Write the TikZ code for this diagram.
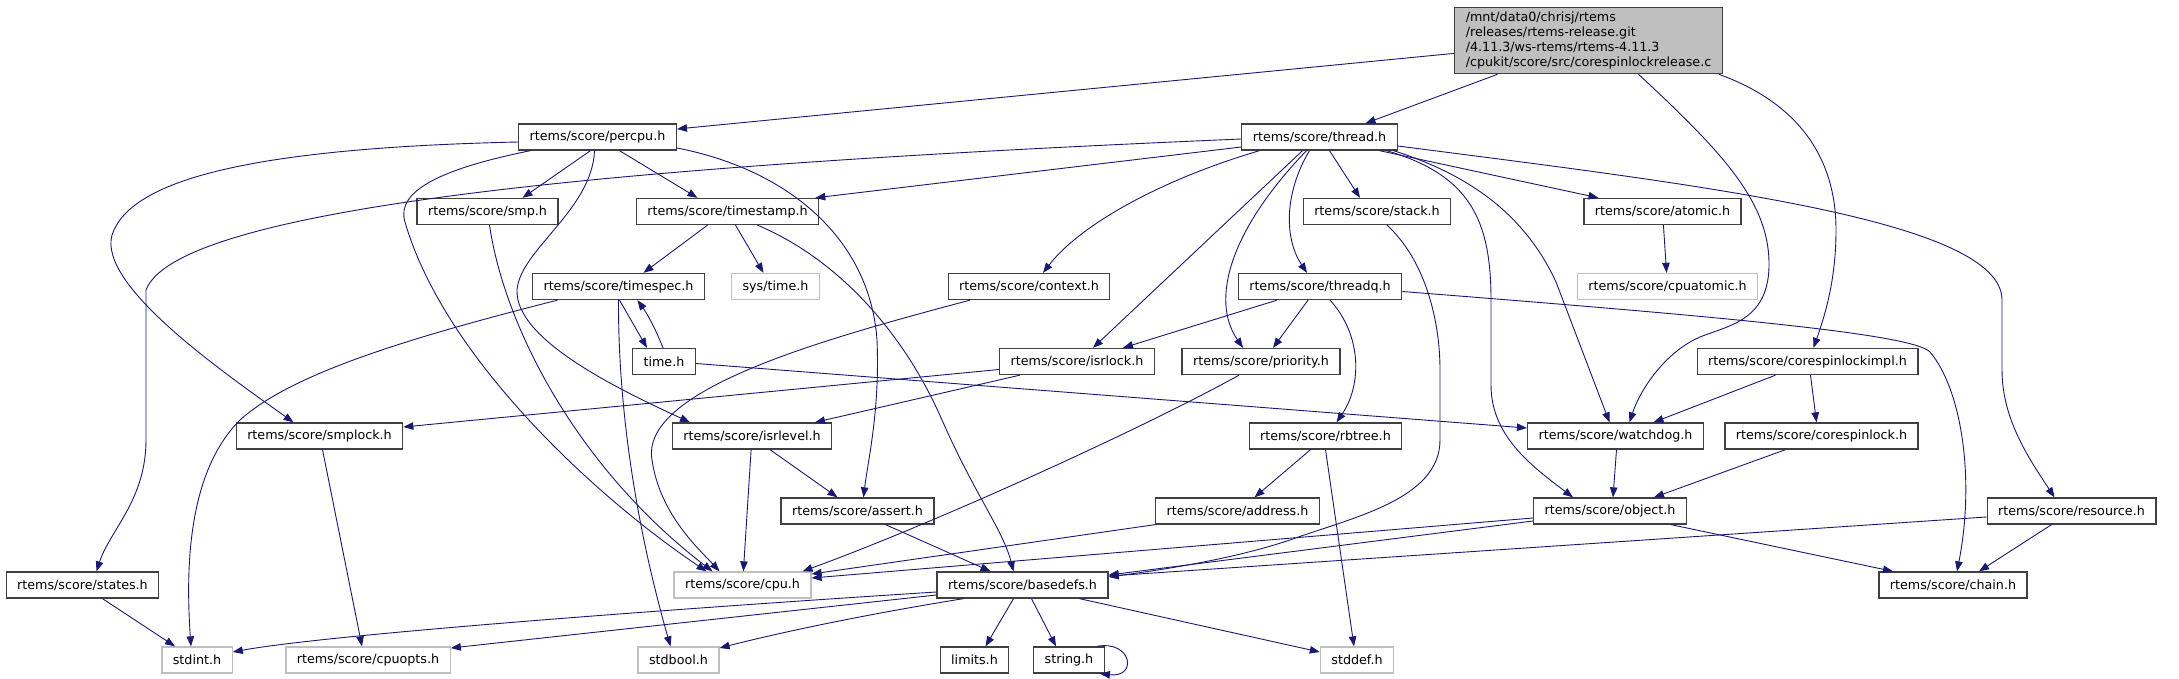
\documentclass[tikz,border=0pt]{standalone}
\usepackage{fontspec}
\setmainfont{DejaVu Sans}
\usetikzlibrary{arrows.meta}
\definecolor{edgeblue}{HTML}{191970}
\definecolor{boxgray}{HTML}{404040}
\definecolor{extgray}{HTML}{BFBFBF}
\tikzset{
  hdr/.style={draw=boxgray,line width=1.3pt,fill=white,minimum height=26pt,inner xsep=11pt,inner ysep=0pt,font=\fontsize{12.7}{15}\selectfont},
  ext/.style={hdr,draw=extgray},
  src/.style={hdr,fill=extgray,align=left,inner ysep=4.5pt},
  dep/.style={draw=edgeblue,line width=0.9pt,-{Triangle[length=10pt,width=7.5pt]}}
}
\begin{document}
\begin{tikzpicture}[x=1pt,y=-1pt]
    \useasboundingbox (0,0) rectangle (2179,679);
    \node[src] (root) at (1588.5,40.5) {/mnt/data0/chrisj/rtems\\/releases/rtems-release.git\\/4.11.3/ws-rtems/rtems-4.11.3\\/cpukit/score/src/corespinlockrelease.c};
    \node[hdr] (percpu) at (597.5,137) {rtems/score/percpu.h};
    \node[hdr] (thread) at (1319.5,137) {rtems/score/thread.h};
    \node[hdr] (smp) at (487.5,211.5) {rtems/score/smp.h};
    \node[hdr] (timestamp) at (727.5,211.5) {rtems/score/timestamp.h};
    \node[hdr] (stack) at (1377,211.5) {rtems/score/stack.h};
    \node[hdr] (atomic) at (1662.5,211.5) {rtems/score/atomic.h};
    \node[hdr] (timespec) at (618.5,286.5) {rtems/score/timespec.h};
    \node[ext] (systime) at (775.5,286.5) {sys/time.h};
    \node[hdr] (context) at (1029,286.5) {rtems/score/context.h};
    \node[hdr] (threadq) at (1320,286.5) {rtems/score/threadq.h};
    \node[ext] (cpuatomic) at (1667.5,286.5) {rtems/score/cpuatomic.h};
    \node[hdr] (timeh) at (664,361.5) {time.h};
    \node[hdr] (isrlock) at (1077,361.5) {rtems/score/isrlock.h};
    \node[hdr] (priority) at (1261,361.5) {rtems/score/priority.h};
    \node[hdr] (spinimpl) at (1807.5,361.5) {rtems/score/corespinlockimpl.h};
    \node[hdr] (smplock) at (319.5,436) {rtems/score/smplock.h};
    \node[hdr] (isrlevel) at (752,436) {rtems/score/isrlevel.h};
    \node[hdr] (rbtree) at (1325.5,436) {rtems/score/rbtree.h};
    \node[hdr] (watchdog) at (1615.5,436) {rtems/score/watchdog.h};
    \node[hdr] (spinlock) at (1821.5,436) {rtems/score/corespinlock.h};
    \node[hdr] (assert) at (857.5,511) {rtems/score/assert.h};
    \node[hdr] (address) at (1237.5,511) {rtems/score/address.h};
    \node[hdr] (object) at (1610,511) {rtems/score/object.h};
    \node[hdr] (resource) at (2071.5,511) {rtems/score/resource.h};
    \node[hdr] (states) at (82.5,585) {rtems/score/states.h};
    \node[ext] (cpu) at (742.5,585) {rtems/score/cpu.h};
    \node[hdr] (basedefs) at (1022.5,585) {rtems/score/basedefs.h};
    \node[hdr] (chain) at (1953,585) {rtems/score/chain.h};
    \node[ext] (stdint) at (197,660) {stdint.h};
    \node[ext] (cpuopts) at (368,660) {rtems/score/cpuopts.h};
    \node[ext] (stdbool) at (678.5,660) {stdbool.h};
    \node[hdr] (limits) at (974.5,660) {limits.h};
    \node[hdr] (stringh) at (1069,660) {string.h};
    \node[ext] (stddef) at (1357,660) {stddef.h};

    \draw[dep] (root) -- ([yshift=8pt]percpu.east);
    \draw[dep] (root) -- ([xshift=46pt]thread.north);
    \draw[dep] ([xshift=50pt]root.south) .. controls (1720,150) and (1768,200) .. (1769,262) .. controls (1770,320) and (1730,325) .. (1700,337) .. controls (1665,352) and (1640,390) .. ([xshift=14pt]watchdog.north);
    \draw[dep] ([xshift=-4pt]root.south east) .. controls (1790,100) and (1836,150) .. (1836,230) .. controls (1836,280) and (1825,315) .. ([xshift=6pt]spinimpl.north);

    \draw[dep] ([yshift=-5pt]percpu.west) .. controls (250,148) and (130,180) .. (112,235) .. controls (98,285) and (220,370) .. ([xshift=-26pt]smplock.north);
    \draw[dep] ([xshift=-67pt]percpu.south) .. controls (445,168) and (395,190) .. (405,222) .. controls (445,360) and (600,500) .. ([xshift=-36pt]cpu.north);
    \draw[dep] ([xshift=-7pt]percpu.south) -- ([xshift=35pt]smp.north);
    \draw[dep] ([xshift=22pt]percpu.south) -- ([xshift=-30pt]timestamp.north);
    \draw[dep] ([xshift=-3pt]percpu.south) .. controls (592,210) and (520,250) .. (517,290) .. controls (515,340) and (620,390) .. ([xshift=-62pt]isrlevel.north);
    \draw[dep] ([yshift=-11pt]percpu.east) .. controls (790,170) and (870,240) .. (877,340) .. controls (880,410) and (868,460) .. ([xshift=6pt]assert.north);

    \draw[dep] ([yshift=-2pt]thread.west) .. controls (700,162) and (180,200) .. (146,290) -- (146,440) .. controls (146,500) and (110,530) .. ([xshift=14pt]states.north);
    \draw[dep] ([yshift=-10pt]thread.west) -- ([xshift=-4pt]timestamp.north east);
    \draw[dep] ([xshift=-60pt]thread.south) .. controls (1160,180) and (1080,225) .. ([xshift=14pt]context.north);
    \draw[dep] ([xshift=-17pt]thread.south) -- ([xshift=16pt]isrlock.north);
    \draw[dep] ([xshift=-13pt]thread.south) .. controls (1230,230) and (1210,300) .. ([xshift=-18pt]priority.north);
    \draw[dep] ([xshift=-10pt]thread.south) .. controls (1283,195) and (1285,240) .. ([xshift=-13pt]threadq.north);
    \draw[dep] ([xshift=10pt]thread.south) -- ([xshift=-17pt]stack.north);
    \draw[dep] ([xshift=60pt]thread.south) -- ([xshift=-64pt]atomic.north);
    \draw[dep] ([xshift=67pt]thread.south) .. controls (1470,175) and (1491,220) .. (1491,300) -- (1491,385) .. controls (1491,435) and (1530,465) .. ([xshift=-37pt]object.north);
    \draw[dep] ([xshift=74pt]thread.south) .. controls (1470,175) and (1525,215) .. (1556,282) -- ([xshift=-6pt]watchdog.north);
    \draw[dep] ([yshift=-9pt]thread.east) .. controls (1700,185) and (2002,220) .. (2002,300) -- (2002,370) .. controls (2002,420) and (2030,460) .. ([xshift=-17pt]resource.north);

    \draw[dep] ([xshift=2pt]smp.south) .. controls (505,330) and (580,470) .. ([xshift=-30pt]cpu.north);
    \draw[dep] ([xshift=-20pt]timestamp.south) -- ([xshift=25pt]timespec.north);
    \draw[dep] ([xshift=8pt]timestamp.south) -- ([xshift=-12pt]systime.north);
    \draw[dep] ([xshift=30pt]timestamp.south) .. controls (840,260) and (905,335) .. (942,420) .. controls (975,495) and (1003,530) .. ([xshift=-9pt]basedefs.north);
    \draw[dep] ([xshift=1pt]timespec.south) -- ([xshift=-17pt]timeh.north);
    \draw[dep] ([xshift=-1pt]timeh.north) .. controls (656,330) and (648,315) .. ([xshift=19pt]timespec.south);
    \draw[dep] ([xshift=-61pt]timespec.south) .. controls (400,340) and (290,375) .. (240,420) .. controls (190,470) and (185,560) .. ([xshift=-6pt]stdint.north);
    \draw[dep] (timespec.south) .. controls (618,420) and (640,540) .. ([xshift=-8pt]stdbool.north);
    \draw[dep] ([yshift=-2pt]timeh.east) -- ([yshift=8pt]watchdog.west);
    \draw[dep] ([xshift=-59pt]context.south) .. controls (820,340) and (640,390) .. (652,460) .. controls (660,515) and (700,550) .. ([xshift=-23pt]cpu.north);

    \draw[dep] ([xshift=-43pt]threadq.south) -- ([xshift=46pt]isrlock.north);
    \draw[dep] ([xshift=-12pt]threadq.south) -- ([xshift=12pt]priority.north);
    \draw[dep] ([xshift=10pt]threadq.south) .. controls (1362,335) and (1362,385) .. ([xshift=11pt]rbtree.north);
    \draw[dep] ([yshift=-5pt]threadq.east) .. controls (1700,315) and (1912,333) .. (1930,352) .. controls (1962,390) and (1975,480) .. ([xshift=4pt]chain.north);
    \draw[dep] ([xshift=10pt]stack.south) .. controls (1425,260) and (1440,320) .. (1440,370) -- (1440,440) .. controls (1440,500) and (1350,518) .. (1290,540) .. controls (1230,560) and (1160,570) .. ([yshift=8pt]basedefs.east);
    \draw[dep] (atomic) -- (cpuatomic);
    \draw[dep] ([yshift=-8pt]isrlock.west) -- ([yshift=9pt]smplock.east);
    \draw[dep] ([xshift=-57pt]isrlock.south) -- ([xshift=63pt]isrlevel.north);
    \draw[dep] ([xshift=-22pt]priority.south) .. controls (1140,430) and (930,525) .. ([xshift=60pt]cpu.north);
    \draw[dep] ([xshift=-32pt]spinimpl.south) -- ([xshift=38pt]watchdog.north);
    \draw[dep] ([xshift=3pt]spinimpl.south) -- ([xshift=-5pt]spinlock.north);

    \draw[dep] ([xshift=3pt]smplock.south) -- ([xshift=-6pt]cpuopts.north);
    \draw[dep] (isrlevel) -- (cpu);
    \draw[dep] ([xshift=18pt]isrlevel.south) -- ([xshift=-20pt]assert.north);
    \draw[dep] ([xshift=-15pt]rbtree.south) -- ([xshift=17pt]address.north);
    \draw[dep] (rbtree.south) -- ([xshift=-3pt]stddef.north);
    \draw[dep] ([xshift=1pt]watchdog.south) -- ([xshift=3pt]object.north);
    \draw[dep] ([xshift=-36pt]spinlock.south) -- ([xshift=44pt]object.north);
    \draw[dep] ([xshift=28pt]assert.south) -- ([xshift=-32pt]basedefs.north);
    \draw[dep] (address.south west) -- ([yshift=11pt]cpu.east);
    \draw[dep] ([yshift=-7pt]object.west) -- ([yshift=7pt]cpu.east);
    \draw[dep] ([yshift=-10pt]object.west) -- ([yshift=10pt]basedefs.east);
    \draw[dep] ([xshift=61pt]object.south) -- ([xshift=-60pt]chain.north);
    \draw[dep] ([yshift=-6pt]resource.west) -- ([yshift=9pt]basedefs.east);
    \draw[dep] ([xshift=-20pt]resource.south) -- ([xshift=26pt]chain.north);

    \draw[dep] ([xshift=20pt]states.south) -- ([xshift=-22pt]stdint.north);
    \draw[dep] ([yshift=-7pt]basedefs.west) .. controls (700,607) and (330,634) .. ([yshift=8pt]stdint.east);
    \draw[dep] ([yshift=-10pt]basedefs.west) -- ([yshift=12pt]cpuopts.east);
    \draw[dep] ([xshift=-59pt]basedefs.south) .. controls (880,612) and (790,630) .. ([yshift=12pt]stdbool.east);
    \draw[dep] ([xshift=-9pt]basedefs.south) -- ([xshift=11pt]limits.north);
    \draw[dep] ([xshift=9pt]basedefs.south) -- ([xshift=-13pt]stringh.north);
    \draw[dep] ([xshift=57pt]basedefs.south) -- ([yshift=8pt]stddef.west);
    \draw[dep] ([xshift=-8pt]stringh.north east) .. controls (1132,640) and (1138,678) .. ([xshift=-5pt]stringh.south east);
\end{tikzpicture}
\end{document}
